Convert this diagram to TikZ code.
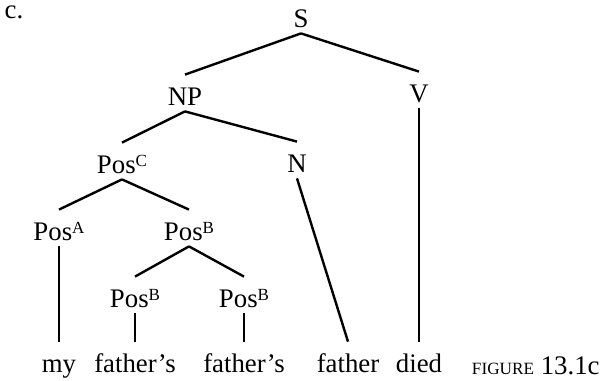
\documentclass[tikz,border=0pt]{standalone}
\usepackage{fontspec}
\setmainfont{Liberation Serif}
\newcommand{\possup}[1]{Pos\raisebox{3.3pt}{\fontsize{8.5}{9}\selectfont #1}}

\begin{document}
\begin{tikzpicture}[x=0.5pt,y=-0.5pt,
  every node/.style={font=\fontsize{13.4}{16}\selectfont},
  cat/.style={inner sep=0pt,text height=15pt,text depth=3pt,anchor=base},
  branch/.style={line width=1.2pt}]
\useasboundingbox (0,0) rectangle (602,381);
\node[anchor=base] (label) at (14,18) {c.};

\node[cat] (S) at (301,27) {S};
\node[cat] (NP) at (185,105) {NP};
\node[cat] (V) at (419,102) {V};
\node[cat] (PosC) at (122,173) {\possup{C}};
\node[cat] (N) at (297,172) {N};
\node[cat] (PosA) at (59,240) {\possup{A}};
\node[cat] (PosB) at (189,240) {\possup{B}};
\node[cat] (PosB1) at (135,307) {\possup{B}};
\node[cat] (PosB2) at (244,307) {\possup{B}};
\node[cat] (my) at (59,372) {my};
\node[cat] (fathers1) at (135,372) {father's};
\node[cat] (fathers2) at (244,372) {father's};
\node[cat] (father) at (348,372) {father};
\node[cat] (died) at (419,372) {died};
\node[anchor=base east,inner sep=0pt] (fig) at (600,374) {{\fontsize{8.6}{10}\selectfont FIGURE} 13.1c};

\path[branch] (S.south) edge (NP.north);
\path[branch] (S.south) edge (V.north);
\path[branch] (NP.south) edge (PosC.north);
\path[branch] (NP.south) edge (N.north);
\path[branch] (V.south) edge (died.north);
\path[branch] (PosC.south) edge (PosA.north);
\path[branch] (PosC.south) edge (PosB.north);
\path[branch] (N.south) edge (father.north);
\path[branch] (PosA.south) edge (my.north);
\path[branch] (PosB.south) edge (PosB1.north);
\path[branch] (PosB.south) edge (PosB2.north);
\path[branch] (PosB1.south) edge (fathers1.north);
\path[branch] (PosB2.south) edge (fathers2.north);
\end{tikzpicture}
\end{document}
